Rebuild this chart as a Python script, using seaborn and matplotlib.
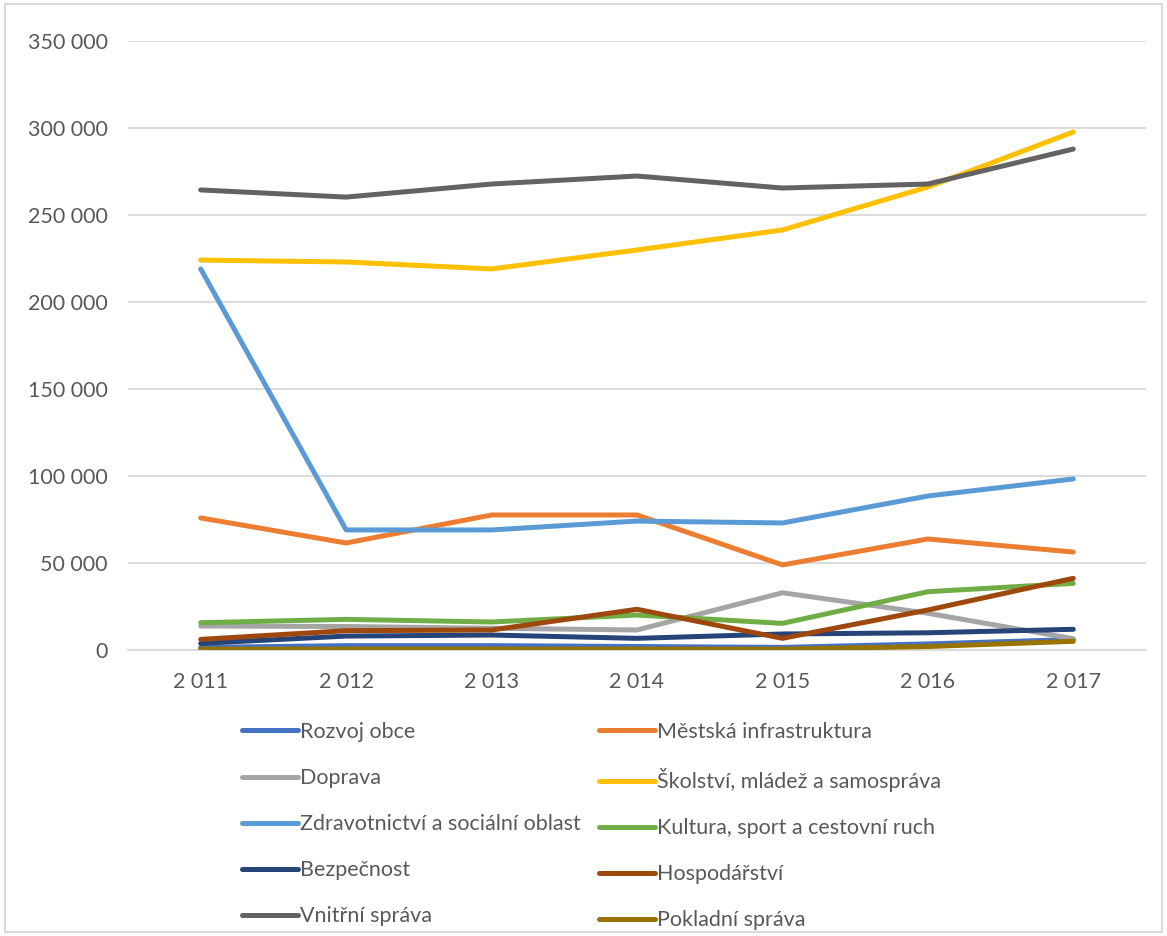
import matplotlib
matplotlib.use("Agg")
import matplotlib.pyplot as plt
import seaborn as sns
import pandas as pd
from matplotlib.lines import Line2D
from matplotlib.patches import Rectangle
from matplotlib.ticker import FuncFormatter

years = ["2 011", "2 012", "2 013", "2 014", "2 015", "2 016", "2 017"]

rozvoj_obce = [1500, 2500, 2500, 2000, 1500, 3500, 6000]
mestska_infrastruktura = [75900, 61500, 77600, 77600, 48900, 63800, 56300]
doprava = [13800, 13500, 12500, 11500, 32900, 21100, 6500]
skolstvi = [224100, 223000, 219000, 229900, 241400, 266100, 297700]
zdravotnictvi = [219000, 69000, 69000, 74100, 73000, 88500, 98300]
kultura = [15700, 17600, 16100, 20100, 15300, 33500, 38300]
bezpecnost = [3800, 8000, 8600, 6700, 9200, 9900, 11900]
hospodarstvi = [6100, 11100, 11500, 23400, 6700, 23000, 41200]
vnitrni_sprava = [264400, 260300, 267800, 272400, 265500, 267800, 287900]
pokladni_sprava = [500, 500, 500, 500, 500, 2000, 5000]

series_names = [
    "Rozvoj obce", "Městská infrastruktura", "Doprava",
    "Školství, mládež a samospráva", "Zdravotnictví a sociální oblast",
    "Kultura, sport a cestovní ruch", "Bezpečnost", "Hospodářství",
    "Vnitřní správa", "Pokladní správa",
]
series_values = [
    rozvoj_obce, mestska_infrastruktura, doprava, skolstvi, zdravotnictvi,
    kultura, bezpecnost, hospodarstvi, vnitrni_sprava, pokladni_sprava,
]
colors = [
    "#4472C4", "#ED7D31", "#A5A5A5", "#FFC000", "#5B9BD5",
    "#70AD47", "#264478", "#9E480E", "#636363", "#997300",
]

rows = []
for name, vals in zip(series_names, series_values):
    for i, (yr, v) in enumerate(zip(years, vals)):
        rows.append({"idx": i, "rok": yr, "kategorie": name, "hodnota": v})
df = pd.DataFrame(rows)

sns.set_theme(style="white")
plt.rcParams["font.family"] = ["Lato", "DejaVu Sans"]

fig = plt.figure(figsize=(11.67, 9.36), dpi=100)
ax = fig.add_axes([128 / 1167, 1 - 650 / 936, (1146 - 128) / 1167, (650 - 41) / 936])

LW = 3.6
palette = dict(zip(series_names, colors))
for z, name in enumerate(series_names):
    sub = df[df["kategorie"] == name]
    sns.lineplot(data=sub, x="idx", y="hodnota", color=palette[name],
                 linewidth=LW, ax=ax, zorder=3 + z, legend=False,
                 solid_capstyle="round", solid_joinstyle="round")

ax.set_xlim(-0.5, len(years) - 0.5)
ax.set_ylim(0, 350000)
ax.set_yticks(range(0, 350001, 50000))
ax.yaxis.set_major_formatter(FuncFormatter(
    lambda v, p: "0" if v == 0 else f"{int(v):,}".replace(",", " ")))
ax.set_xticks(range(len(years)))
ax.set_xticklabels(years)
ax.grid(axis="y", color="#D9D9D9", linewidth=1.3)
ax.grid(axis="x", visible=False)
for s in ["top", "right", "left"]:
    ax.spines[s].set_visible(False)
ax.spines["bottom"].set_color("#D9D9D9")
ax.spines["bottom"].set_linewidth(1.3)
ax.tick_params(axis="both", colors="#595959", labelsize=15.5, length=0)
ax.tick_params(axis="y", pad=14.5)
ax.tick_params(axis="x", pad=16)
ax.set_xlabel("")
ax.set_ylabel("")

# Legend split into two columns
left_idx = [0, 2, 4, 6, 8]
right_idx = [1, 3, 5, 7, 9]
for idxs, xpos in [(left_idx, 242), (right_idx, 599)]:
    handles = [Line2D([], [], color=colors[i], linewidth=LW,
                      solid_capstyle="round") for i in idxs]
    labels = [series_names[i] for i in idxs]
    fig.legend(handles, labels, loc="upper left",
               bbox_to_anchor=(xpos / 1167, 1 - 722 / 936),
               frameon=False, fontsize=15.5, handlelength=2.6,
               handletextpad=0.1, labelspacing=1.21, borderpad=0,
               borderaxespad=0, labelcolor="#595959")

fig.patches.append(Rectangle((0.004, 0.004), 0.992, 0.992,
                             transform=fig.transFigure, fill=False,
                             edgecolor="#D9D9D9", linewidth=1.5))

fig.savefig("out.png", dpi=100)
